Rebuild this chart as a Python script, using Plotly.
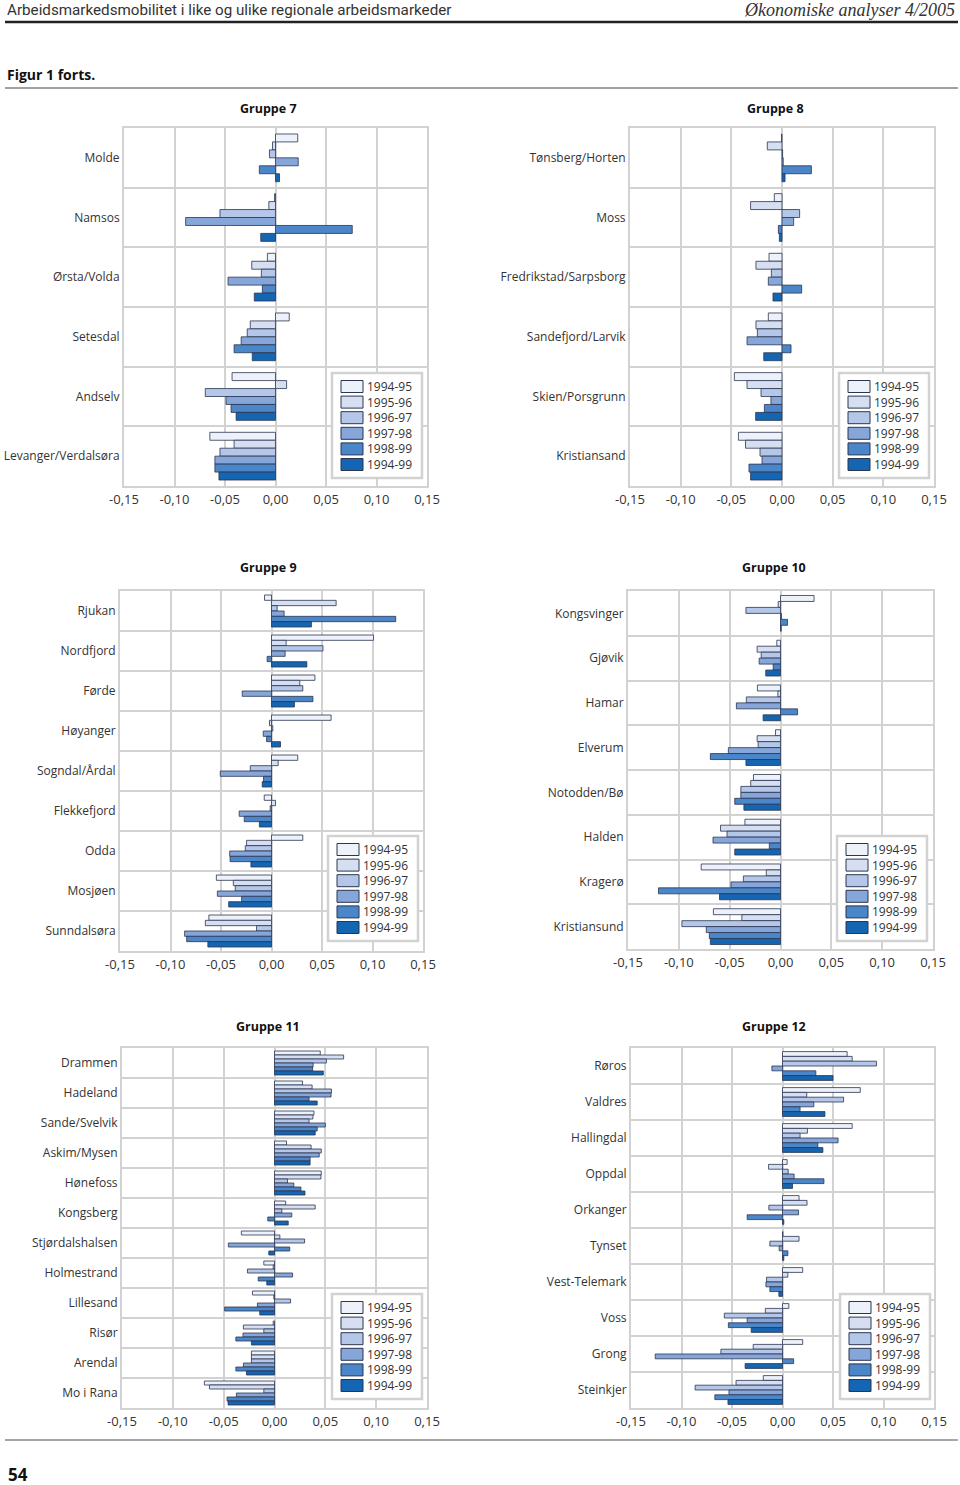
import plotly.graph_objects as go

W, H = 960, 1485

PERIODS = ["1994-95", "1995-96", "1996-97", "1997-98", "1998-99", "1994-99"]
COLORS = ["#edf1f9", "#d5dff1", "#b4c7e8", "#86a6d9", "#4b86c9", "#1466b2"]
EDGE = "#2b3550"
GRID = "#d2d2d2"
TEXT = "#333333"

TICK_VALS = [-0.15, -0.10, -0.05, 0.0, 0.05, 0.10, 0.15]
TICK_TEXT = ["-0,15", "-0,10", "-0,05", "0,00", "0,05", "0,10", "0,15"]

# ---- Gruppe 7
g7_regions = ["Molde", "Namsos", "Ørsta/Volda", "Setesdal", "Andselv", "Levanger/Verdalsøra"]
g7_9495 = [0.022, -0.001, -0.008, 0.0136, -0.043, -0.065]
g7_9596 = [-0.003, -0.0066, -0.0235, -0.025, 0.011, -0.041]
g7_9697 = [-0.006, -0.055, -0.014, -0.028, -0.0695, -0.055]
g7_9798 = [0.0225, -0.089, -0.047, -0.034, -0.049, -0.060]
g7_9899 = [-0.016, 0.076, -0.013, -0.041, -0.044, -0.060]
g7_9499 = [0.004, -0.0146, -0.021, -0.023, -0.039, -0.056]

# ---- Gruppe 8
g8_regions = ["Tønsberg/Horten", "Moss", "Fredrikstad/Sarpsborg", "Sandefjord/Larvik", "Skien/Porsgrunn", "Kristiansand"]
g8_9495 = [-0.0005, -0.0076, -0.0128, -0.0135, -0.047, -0.043]
g8_9596 = [-0.0145, -0.031, -0.0257, -0.0257, -0.0345, -0.036]
g8_9697 = [0.0006, 0.0174, -0.0105, -0.0243, -0.0207, -0.0217]
g8_9798 = [0.0012, 0.0115, -0.0135, -0.0345, -0.0109, -0.0197]
g8_9899 = [0.029, -0.0036, 0.0194, 0.0089, -0.0174, -0.0326]
g8_9499 = [0.003, -0.0026, -0.0089, -0.018, -0.026, -0.031]

# ---- Gruppe 9
g9_regions = ["Rjukan", "Nordfjord", "Førde", "Høyanger", "Sogndal/Årdal", "Flekkefjord", "Odda", "Mosjøen", "Sunndalsøra"]
g9_9495 = [-0.0069, 0.101, 0.043, 0.059, 0.026, -0.0072, 0.031, -0.0546, -0.062]
g9_9596 = [0.064, 0.0145, 0.028, -0.002, 0.0066, 0.004, -0.0247, -0.0378, -0.0655]
g9_9697 = [0.0056, 0.051, 0.031, 0.0013, -0.021, -0.0013, -0.026, -0.0359, -0.0148]
g9_9798 = [0.0125, 0.0135, -0.029, -0.0082, -0.0507, -0.032, -0.0414, -0.0536, -0.086]
g9_9899 = [0.123, -0.0043, 0.041, -0.0049, -0.0079, -0.027, -0.041, -0.0296, -0.084]
g9_9499 = [0.0395, 0.035, 0.0227, 0.0089, -0.0092, -0.012, -0.0204, -0.0424, -0.063]

# ---- Gruppe 10
g10_regions = ["Kongsvinger", "Gjøvik", "Hamar", "Elverum", "Notodden/Bø", "Halden", "Kragerø", "Kristiansund"]
g10_9495 = [0.033, -0.0036, -0.0227, -0.0049, -0.0266, -0.035, -0.078, -0.066]
g10_9596 = [-0.0023, -0.023, -0.0026, -0.023, -0.0293, -0.059, -0.014, -0.038]
g10_9697 = [-0.034, -0.019, -0.0336, -0.022, -0.039, -0.0526, -0.0365, -0.097]
g10_9798 = [0.001, -0.021, -0.0434, -0.0513, -0.039, -0.0664, -0.0487, -0.073]
g10_9899 = [0.0069, -0.0072, 0.0168, -0.069, -0.045, -0.011, -0.120, -0.070]
g10_9499 = [0.0007, -0.0145, -0.0171, -0.034, -0.036, -0.045, -0.060, -0.069]

# ---- Gruppe 11
g11_regions = ["Drammen", "Hadeland", "Sande/Svelvik", "Askim/Mysen", "Hønefoss", "Kongsberg", "Stjørdalshalsen",
               "Holmestrand", "Lillesand", "Risør", "Arendal", "Mo i Rana"]
g11_9495 = [0.045, 0.0276, 0.0388, 0.0118, 0.046, 0.011, -0.0326, -0.0105, -0.0217, -0.0013, -0.0227, -0.069]
g11_9596 = [0.068, 0.037, 0.0378, 0.036, 0.0457, 0.040, 0.0053, -0.0013, -0.0007, -0.0306, -0.0227, -0.064]
g11_9697 = [0.051, 0.056, 0.034, 0.046, 0.0128, 0.0072, 0.0296, -0.0266, 0.0158, -0.0105, -0.0227, -0.0105]
g11_9798 = [0.038, 0.0556, 0.050, 0.044, 0.019, 0.017, -0.0454, 0.0178, -0.0168, -0.031, -0.0306, -0.0375]
g11_9899 = [0.0375, 0.034, 0.042, 0.035, 0.026, -0.0066, 0.015, -0.016, -0.049, -0.038, -0.038, -0.0467]
g11_9499 = [0.048, 0.042, 0.040, 0.035, 0.030, 0.0135, -0.0056, -0.0076, -0.0145, -0.0227, -0.0276, -0.0457]

# ---- Gruppe 12
g12_regions = ["Røros", "Valdres", "Hallingdal", "Oppdal", "Orkanger", "Tynset", "Vest-Telemark", "Voss", "Grong", "Steinkjer"]
g12_9495 = [0.064, 0.077, 0.069, 0.0046, 0.0164, 0.0004, 0.020, 0.0063, 0.020, -0.019]
g12_9596 = [0.069, 0.024, 0.0247, -0.0138, 0.0243, 0.0164, 0.0053, -0.017, -0.029, -0.046]
g12_9697 = [0.093, 0.0605, 0.0174, 0.0056, -0.0135, -0.0125, -0.0158, -0.0576, -0.061, -0.0865]
g12_9798 = [-0.0105, 0.031, 0.055, 0.0115, 0.0158, -0.0033, -0.0164, -0.035, -0.126, -0.053]
g12_9899 = [0.033, 0.0174, 0.035, 0.041, -0.035, 0.0053, -0.0125, -0.0536, 0.011, -0.067]
g12_9499 = [0.050, 0.042, 0.040, 0.0099, 0.0013, 0.0013, -0.0036, -0.031, -0.037, -0.054]

PANELS = [
    dict(title="Gruppe 7", regions=g7_regions,
         series=[g7_9495, g7_9596, g7_9697, g7_9798, g7_9899, g7_9499],
         box=(124, 427, 128, 486), tx=268, ty=109, leg=(332, 373)),
    dict(title="Gruppe 8", regions=g8_regions,
         series=[g8_9495, g8_9596, g8_9697, g8_9798, g8_9899, g8_9499],
         box=(630, 934, 128, 486), tx=775, ty=109, leg=(839, 373)),
    dict(title="Gruppe 9", regions=g9_regions,
         series=[g9_9495, g9_9596, g9_9697, g9_9798, g9_9899, g9_9499],
         box=(120, 423, 591, 951), tx=268, ty=567, leg=(328, 836)),
    dict(title="Gruppe 10", regions=g10_regions,
         series=[g10_9495, g10_9596, g10_9697, g10_9798, g10_9899, g10_9499],
         box=(628, 933, 591, 949), tx=774, ty=567, leg=(837, 836)),
    dict(title="Gruppe 11", regions=g11_regions,
         series=[g11_9495, g11_9596, g11_9697, g11_9798, g11_9899, g11_9499],
         box=(122, 427, 1048, 1408), tx=268, ty=1026, leg=(332, 1294)),
    dict(title="Gruppe 12", regions=g12_regions,
         series=[g12_9495, g12_9596, g12_9697, g12_9798, g12_9899, g12_9499],
         box=(631, 934, 1048, 1408), tx=774, ty=1026, leg=(840, 1294)),
]

FONT = "Open Sans, Noto Sans, sans-serif"
LEG_FS = 12            # legend text size
LEG_STEP = LEG_FS * 1.3  # line spacing of a multi-line annotation


def PX(x):
    return x / W


def PY(y):
    return 1 - y / H


fig = go.Figure()
annotations = []
shapes = []
layout_upd = {}

for i, p in enumerate(PANELS):
    sfx = "" if i == 0 else str(i + 1)
    for k, (name, vals) in enumerate(zip(PERIODS, p["series"])):
        fig.add_trace(go.Bar(
            x=vals, y=p["regions"], orientation="h", name=name,
            marker=dict(color=COLORS[k], line=dict(color=EDGE, width=0.8)),
            xaxis="x" + sfx, yaxis="y" + sfx,
            showlegend=False, hoverinfo="x+y+name",
        ))
    x0, x1, y0, y1 = p["box"]
    n = len(p["regions"])
    layout_upd["xaxis" + sfx] = dict(
        domain=[PX(x0), PX(x1)], range=[-0.15, 0.15], anchor="y" + sfx,
        tickmode="array", tickvals=TICK_VALS, ticktext=TICK_TEXT,
        showgrid=True, gridcolor=GRID, gridwidth=2, zeroline=False,
        showline=True, linecolor=GRID, linewidth=2, mirror=True, ticks="",
        tickfont=dict(family=FONT, size=13, color=TEXT), fixedrange=True,
        automargin=False,
    )
    layout_upd["yaxis" + sfx] = dict(
        domain=[PY(y1), PY(y0)], anchor="x" + sfx, type="category",
        categoryorder="array", categoryarray=p["regions"], range=[n - 0.5, -0.5],
        tickson="boundaries", showgrid=True, gridcolor=GRID, gridwidth=2,
        showline=True, linecolor=GRID, linewidth=2, mirror=True, ticks="",
        tickfont=dict(family=FONT, size=12, color=TEXT), fixedrange=True,
        automargin=False, ticklabelstandoff=0,
    )
    annotations.append(dict(
        text="<b>%s</b>" % p["title"], x=PX(p["tx"]), y=PY(p["ty"]),
        xref="paper", yref="paper", xanchor="center", yanchor="middle",
        showarrow=False, font=dict(family=FONT, size=12.5, color="#111111"),
    ))
    # legend box (layout decoration)
    lx, ly = p["leg"]
    shapes.append(dict(type="rect", xref="paper", yref="paper",
                       x0=PX(lx), x1=PX(lx + 90), y0=PY(ly + 105), y1=PY(ly),
                       fillcolor="white", line=dict(color=GRID, width=2.5)))
    top = ly + 52.5 - 3 * LEG_STEP
    for k in range(len(PERIODS)):
        cy = top + LEG_STEP * (k + 0.5)
        shapes.append(dict(type="rect", xref="paper", yref="paper",
                           x0=PX(lx + 9), x1=PX(lx + 31), y0=PY(cy + 6), y1=PY(cy - 6),
                           fillcolor=COLORS[k], line=dict(color=EDGE, width=1)))
    annotations.append(dict(
        text="<br>".join(PERIODS), x=PX(lx + 34), y=PY(ly + 52.5),
        xref="paper", yref="paper", xanchor="left", yanchor="middle", align="left",
        showarrow=False, borderpad=0, font=dict(family=FONT, size=LEG_FS, color=TEXT),
    ))

# page header / footer
annotations += [
    dict(text="Arbeidsmarkedsmobilitet i like og ulike regionale arbeidsmarkeder",
         x=PX(5), y=PY(10), xref="paper", yref="paper", xanchor="left", yanchor="middle",
         showarrow=False, font=dict(family="Roboto, sans-serif", size=15.2, color=TEXT)),
    dict(text="<i>Økonomiske analyser 4/2005</i>",
         x=PX(957), y=PY(10), xref="paper", yref="paper", xanchor="right", yanchor="middle",
         showarrow=False, font=dict(family="Liberation Serif, serif", size=18, color=TEXT)),
    dict(text="<b>Figur 1 forts.</b>",
         x=PX(5), y=PY(75), xref="paper", yref="paper", xanchor="left", yanchor="middle",
         showarrow=False, font=dict(family=FONT, size=14, color="#111111")),
    dict(text="<b>54</b>",
         x=PX(6), y=PY(1474), xref="paper", yref="paper", xanchor="left", yanchor="middle",
         showarrow=False, font=dict(family=FONT, size=17, color="#111111")),
]

shapes += [
    dict(type="line", xref="paper", yref="paper", x0=PX(5), x1=PX(958),
         y0=PY(22), y1=PY(22), line=dict(color="#222222", width=2.5)),
    dict(type="line", xref="paper", yref="paper", x0=PX(5), x1=PX(958),
         y0=PY(88), y1=PY(88), line=dict(color="#444444", width=1)),
    dict(type="line", xref="paper", yref="paper", x0=PX(5), x1=PX(958),
         y0=PY(1440), y1=PY(1440), line=dict(color="#888888", width=1.5)),
]

fig.update_layout(
    template="none",
    width=W, height=H, margin=dict(l=0, r=0, t=0, b=0, pad=0, autoexpand=False),
    paper_bgcolor="white", plot_bgcolor="white",
    barmode="group", bargap=0.2, bargroupgap=0,
    annotations=annotations, shapes=shapes, showlegend=False,
    font=dict(family=FONT, color=TEXT),
    **layout_upd,
)

fig.write_html("out.html", config={"displayModeBar": False},
               post_script="document.body.style.margin='0';")
